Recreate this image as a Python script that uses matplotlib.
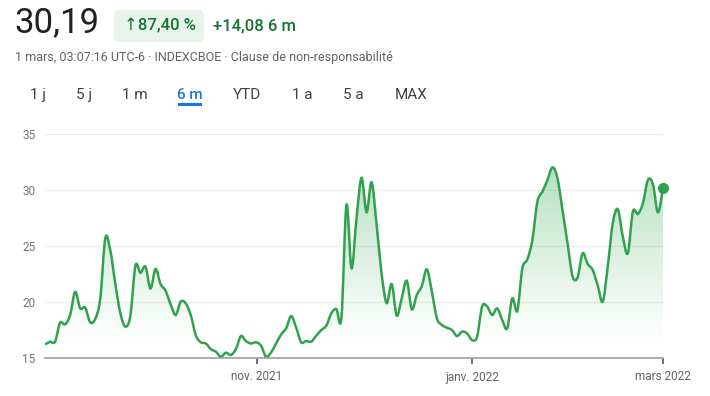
import numpy as np
import matplotlib.pyplot as plt
from matplotlib.patches import FancyBboxPatch, Rectangle, PathPatch
from matplotlib.path import Path
from matplotlib.transforms import IdentityTransform

# VIX closes, one point per trading day
vix = [
    16.20, 16.45, 16.45, 18.15, 18.00, 18.84, 20.90, 19.43, 19.50, 18.19,
    18.50, 20.30, 25.70, 24.60, 21.60, 19.00, 17.80, 18.80, 23.24, 22.60,
    23.15, 21.20, 22.95, 21.60, 21.00, 19.80, 18.84, 20.03, 19.88, 18.84,
    17.05, 16.40, 16.30, 15.80, 15.56, 15.12, 15.47, 15.27, 15.80, 16.96,
    16.50, 16.30, 16.40, 16.10, 15.12, 15.50, 16.30, 17.10, 17.65, 18.75,
    17.70, 16.40, 16.52, 16.46, 17.00, 17.50, 17.90, 19.00, 19.37, 18.60,
    28.66, 23.00, 27.47, 31.10, 28.00, 30.70, 26.90, 22.50, 19.90, 21.60,
    18.78, 20.33, 21.90, 19.35, 20.63, 21.43, 22.92, 20.92, 18.54, 17.95,
    17.70, 17.50, 16.96, 17.35, 17.20, 16.60, 16.90, 19.60, 19.60, 18.84,
    19.43, 18.40, 17.65, 20.33, 19.20, 23.00, 23.80, 25.54, 28.96, 29.85,
    30.89, 32.02, 31.04, 28.20, 25.24, 22.30, 22.20, 24.35, 23.40, 22.86,
    21.50, 20.03, 23.15, 27.03, 28.28, 25.83, 24.35, 28.06, 27.86, 28.81,
    30.90, 30.50, 28.00, 30.19,
]
month_ticks = [42.2, 85.0, 123.0]
month_labels = ['nov. 2021', 'janv. 2022', 'mars 2022']
y_ticks = [15, 20, 25, 30, 35]
tabs = ['1 j', '5 j', '1 m', '6 m', 'YTD', '1 a', '5 a', 'MAX']

plt.rcParams['font.family'] = ['Roboto', 'DejaVu Sans']

W, H = 710, 396
green = '#31a24c'
dark_green = '#137333'


def fx(px):
    return px / W


def fy(py):
    return 1 - py / H


def smooth_path(xs, ys):
    # Catmull-Rom through the data points, drawn as cubic bezier segments
    pts = np.column_stack([xs, ys]).astype(float)
    padded = np.vstack([pts[0], pts, pts[-1]])
    verts = [pts[0]]
    codes = [Path.MOVETO]
    for i in range(len(pts) - 1):
        p0, p1, p2, p3 = padded[i], padded[i + 1], padded[i + 2], padded[i + 3]
        verts += [p1 + (p2 - p0) / 6, p2 - (p3 - p1) / 6, p2]
        codes += [Path.CURVE4] * 3
    return np.array(verts), codes


fig = plt.figure(figsize=(W / 100, H / 100), dpi=100)
fig.patch.set_facecolor('white')

# header
fig.text(fx(14), fy(23), '30,19', fontsize=25, color='#202124', va='center', ha='left')
badge = FancyBboxPatch((114, H - 42), 90, 32, boxstyle='round,pad=0,rounding_size=6',
                       transform=IdentityTransform(), facecolor='#e6f4ea', edgecolor='none')
fig.add_artist(badge)
fig.text(fx(160), fy(26), '↑87,40 %', fontsize=12, color=dark_green, va='center',
         ha='center', fontweight='medium')
fig.text(fx(213), fy(26), '+14,08 6 m', fontsize=12, color=dark_green, va='center',
         ha='left', fontweight='medium')
fig.text(fx(15), fy(58), '1 mars, 03:07:16 UTC-6 · INDEXCBOE · Clause de non-responsabilité',
         fontsize=9, color='#5f6368', va='center', ha='left')

# range tabs
tab_x = [38, 84, 135, 190, 247, 302, 353, 411]
for label, px in zip(tabs, tab_x):
    active = label == '6 m'
    fig.text(fx(px), fy(95), label, fontsize=11, va='center', ha='center',
             color='#1a73e8' if active else '#3c4043',
             fontweight='medium' if active else 'normal')
fig.add_artist(Rectangle((178, H - 106), 24, 3, transform=IdentityTransform(),
                         facecolor='#1a73e8', edgecolor='none'))

# chart
ax = fig.add_axes([fx(45), fy(358), (663 - 45) / W, (358 - 134) / H])
x = np.arange(len(vix))
ax.set_xlim(0, len(vix) - 1)
ax.set_ylim(15, 35)

for yv in y_ticks[1:]:
    ax.axhline(yv, color='#ececec', lw=0.9, zorder=0)
ax.axhline(15, color='#9aa0a6', lw=1.2, zorder=4, clip_on=False)

verts, codes = smooth_path(x, vix)

# gradient fill under the line
yy = np.linspace(15, 35, 300)
alpha = np.clip((yy - 16) / (32 - 16), 0, 1) ** 1.1 * 0.36
grad = np.zeros((len(yy), 1, 4))
grad[:, 0, :3] = (0.204, 0.659, 0.325)
grad[:, 0, 3] = alpha
im = ax.imshow(grad, extent=[0, len(vix) - 1, 15, 35], origin='lower', aspect='auto',
               zorder=1, interpolation='bilinear')
area_verts = np.vstack([verts, [[x[-1], 15], [x[0], 15], verts[0]]])
area_codes = codes + [Path.LINETO, Path.LINETO, Path.CLOSEPOLY]
im.set_clip_path(Path(area_verts, area_codes), transform=ax.transData)

ax.add_patch(PathPatch(Path(verts, codes), facecolor='none', edgecolor=green, lw=1.8,
                       joinstyle='round', zorder=3))
ax.plot(x[-1], vix[-1], 'o', color=green, ms=7, zorder=5, clip_on=False)

for s in ax.spines.values():
    s.set_visible(False)
ax.set_yticks(y_ticks)
ax.tick_params(axis='y', length=0, pad=7, labelsize=8.5, labelcolor='#70757a')
ax.set_xticks(month_ticks, month_labels)
ax.tick_params(axis='x', length=4, width=1.3, color='#5f6368', pad=5,
               labelsize=8.5, labelcolor='#5f6368')

fig.savefig('out.png', dpi=100)
